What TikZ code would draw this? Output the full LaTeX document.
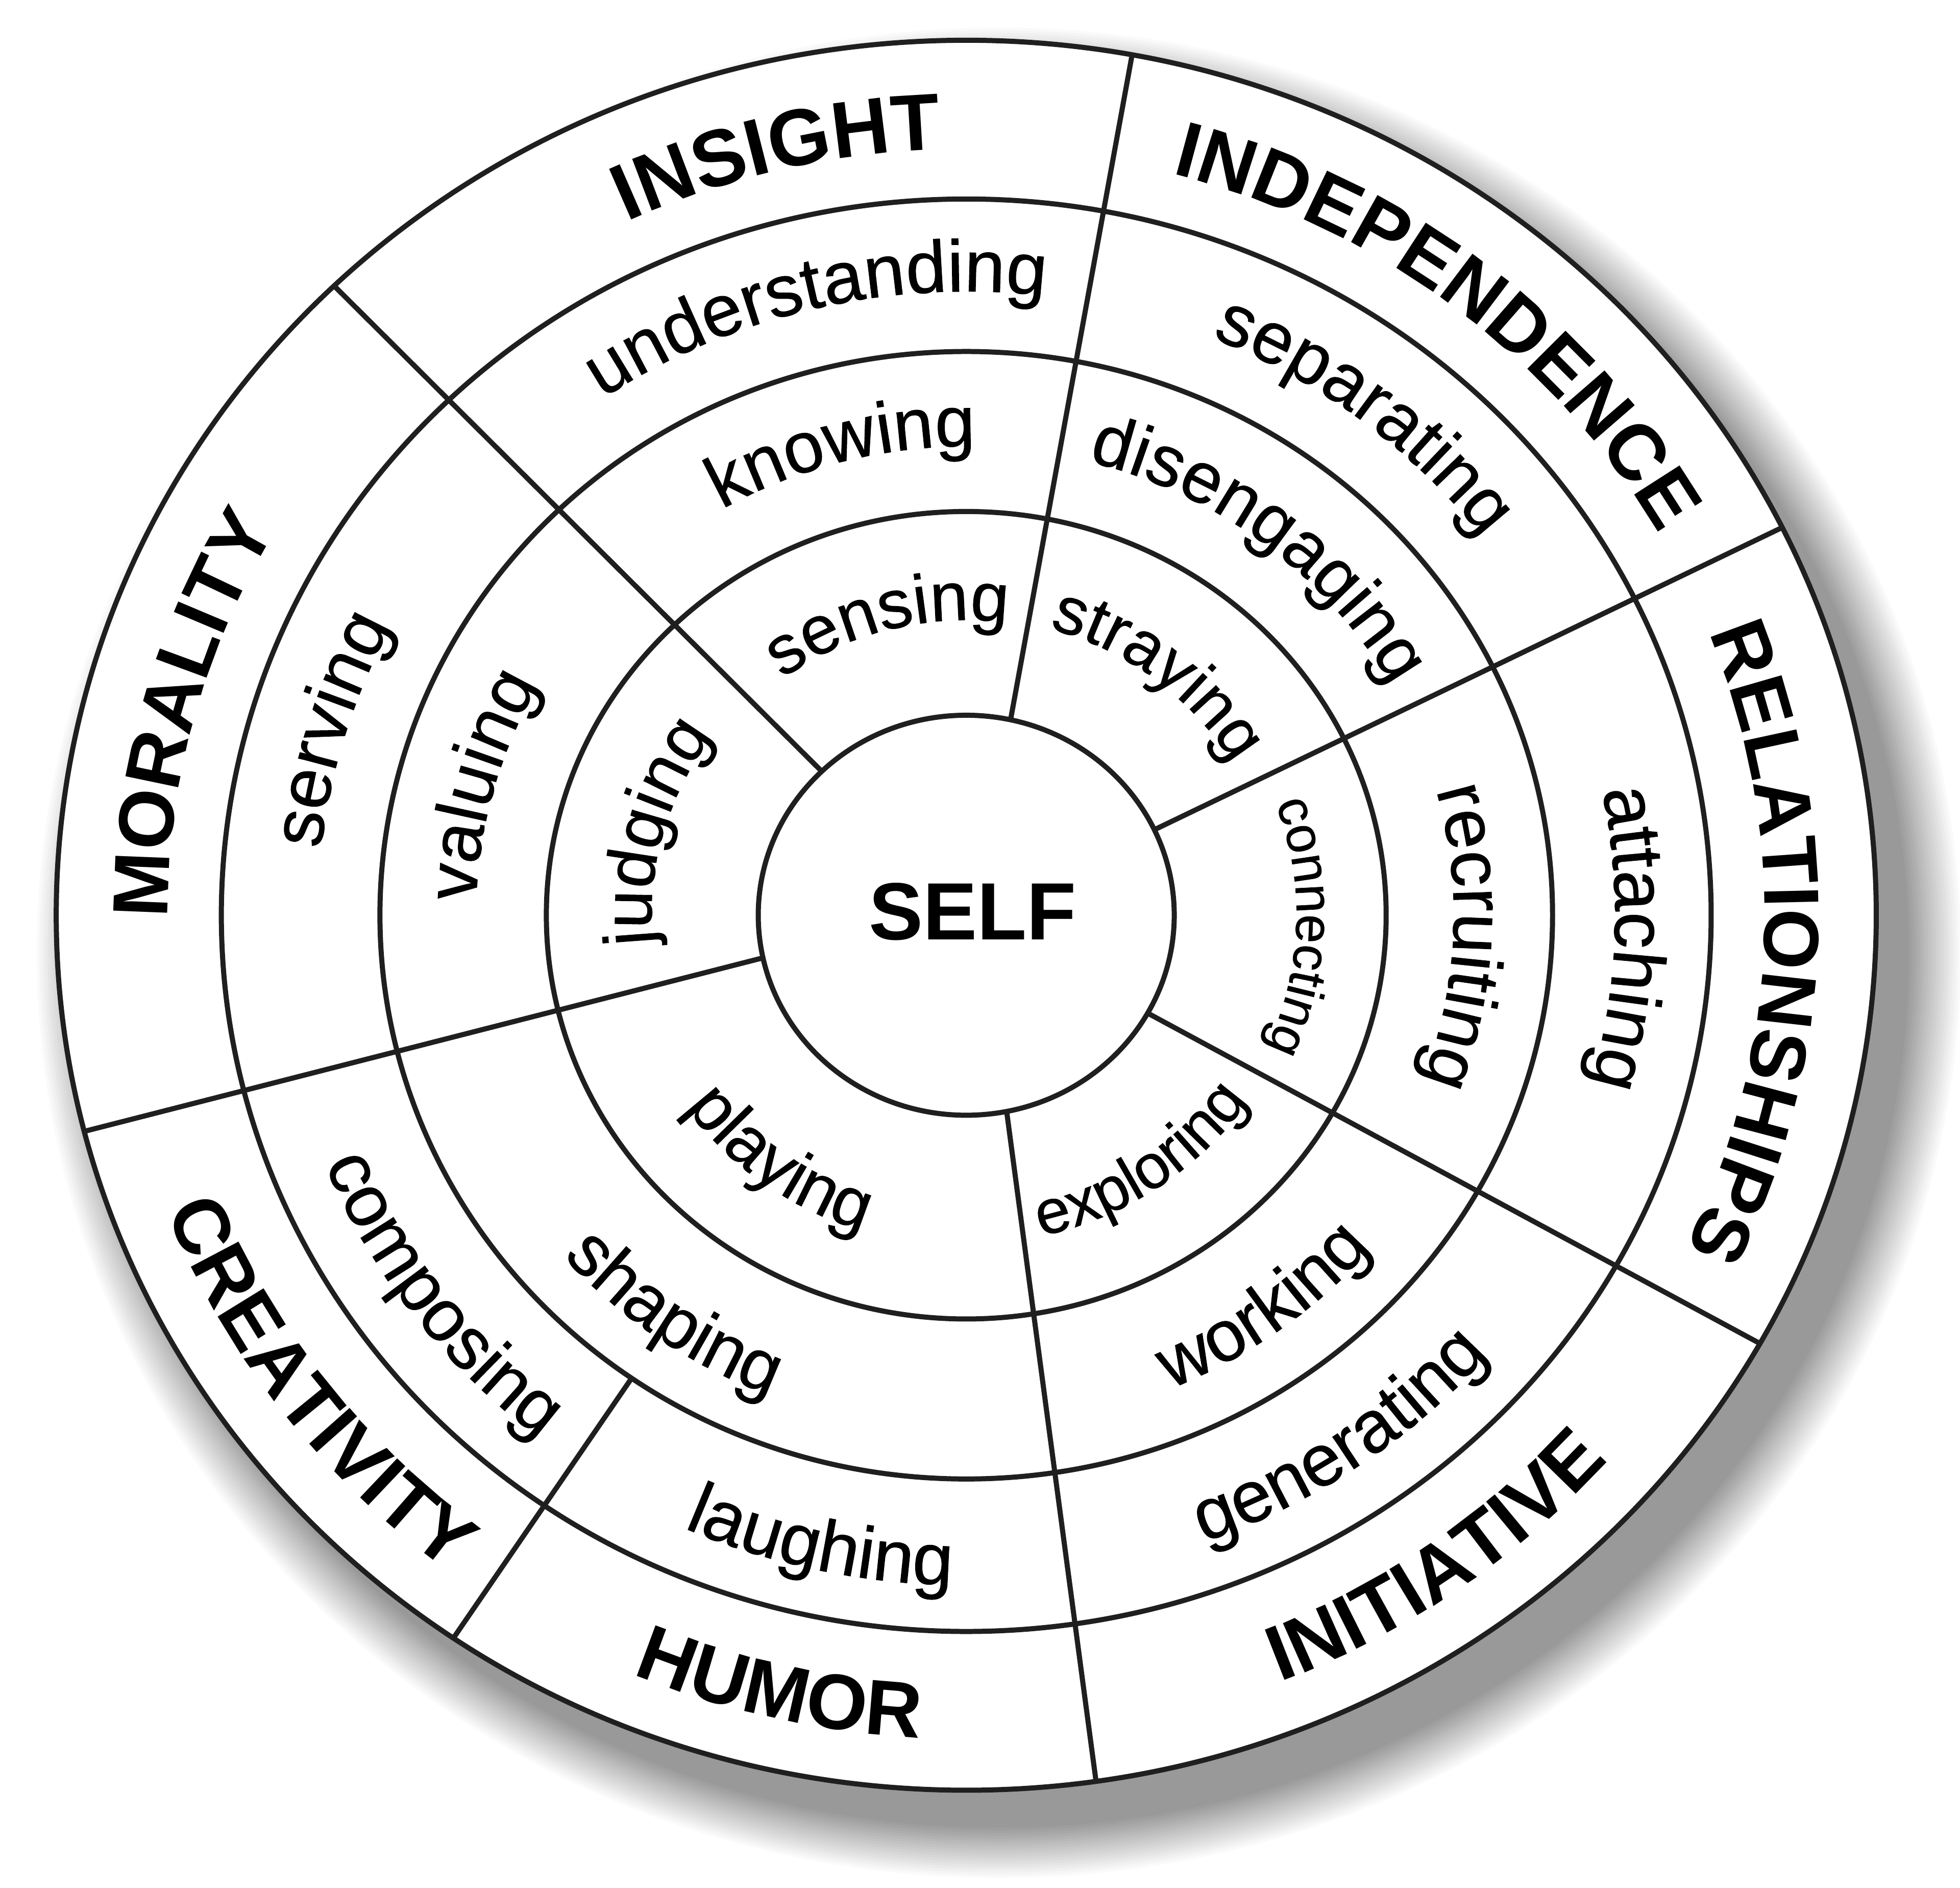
\documentclass[tikz,border=0pt]{standalone}
\usepackage{fontspec}
\setmainfont{Liberation Sans}
\newfontfamily\medsans[FakeBold=0.7]{Liberation Sans}
\usetikzlibrary{decorations.text}

\newcommand\fOut{\fontsize{22.3pt}{26pt}\selectfont\bfseries}
\newcommand\fIns{\fontsize{22.8pt}{26pt}\selectfont\bfseries}
\newcommand\fRingD{\medsans\fontsize{20.8pt}{24pt}\selectfont}
\newcommand\fRingC{\medsans\fontsize{20.5pt}{24pt}\selectfont}
\newcommand\fRingB{\medsans\fontsize{19.6pt}{23pt}\selectfont}
\newcommand\fStray{\medsans\fontsize{19.0pt}{22pt}\selectfont}
\newcommand\fConn{\medsans\fontsize{14.8pt}{17pt}\selectfont}
\newcommand\fExpl{\medsans\fontsize{17.8pt}{20pt}\selectfont}
\newcommand\fPlay{\medsans\fontsize{19.8pt}{23pt}\selectfont}
\newcommand\fSelf{\fontsize{23.1pt}{26pt}\selectfont\bfseries}

% clockwise text (tops outward): centre angle, baseline radius, font, text
\newcommand\cwtext[4]{\path[decorate,decoration={text along path,text align=center,text={|#3|#4}}] ({#1+80}:#2) arc[start angle={#1+80},end angle={#1-80},radius=#2];}
% counter-clockwise text (tops inward)
\newcommand\ccwtext[4]{\path[decorate,decoration={text along path,text align=center,text={|#3|#4}}] ({#1-80}:#2) arc[start angle={#1-80},end angle={#1+80},radius=#2];}

\begin{document}
\begin{tikzpicture}[x=0.013cm,y=0.0125cm,
  ring/.style={draw=black!88,line width=1.45pt}]
\fill[white] (-9.6625cm,-9.725cm) rectangle (9.9375cm,9.15cm);
\useasboundingbox (-9.6625cm,-9.725cm) rectangle (9.9375cm,9.15cm);

% drop shadow
\foreach \k in {0,...,19}{
  \pgfmathsetmacro\pc{2+\k*2.0}
  \pgfmathsetmacro\rr{740-\k*2.1}
  \fill[black!\pc] (25,-30) circle[radius=\rr];
}
\fill[white] (0,0) circle[radius=700];

% rings
\foreach \r in {160,323,451,573,700}{
  \draw[ring] (0,0) circle[radius=\r];
}

% dividers
\draw[ring] (77.7:160) -- (79.5:700);
\draw[ring] (134:160) -- (134:700);
\draw[ring] (25.3:160) -- (26.3:700);
\draw[ring] (-29.3:160) -- (-29.3:700);
\draw[ring] (-78.8:160) -- (-81.8:700);
\draw[ring] (192.3:160) -- (194.3:700);
\draw[ring] (235.2:451) -- (235.7:700);

% centre
\node[font=\fSelf,inner sep=0pt] (self) at (5,3) {SELF};

% outer ring
\cwtext{104}{613}{\fIns}{INSIGHT}
\cwtext{51.5}{614}{\fOut}{INDEPENDENCE}
\cwtext{-2}{614}{\fOut}{RELATIONSHIPS}
\ccwtext{-54}{659}{\fOut}{INITIATIVE}
\ccwtext{256.5}{659}{\fOut}{HUMOR}
\ccwtext{216}{659}{\fOut}{CREATIVITY}
\cwtext{165.5}{614}{\fOut}{MORALITY}

% ring 4
\cwtext{104}{499}{\fRingD}{understanding}
\cwtext{51.5}{499}{\fRingD}{separating}
\cwtext{-2}{499}{\fRingD}{attaching}
\ccwtext{-54.6}{534}{\fRingD}{generating}
\ccwtext{257}{536}{\fRingD}{laughing}
\ccwtext{216}{532}{\fRingD}{composing}
\cwtext{163.7}{499}{\fRingD}{serving}

% ring 3
\cwtext{105}{375}{\fRingC}{knowing}
\cwtext{51.5}{375}{\fRingC}{disengaging}
\cwtext{-2.5}{375}{\fRingC}{recruiting}
\ccwtext{-53}{410}{\fRingC}{working}
\ccwtext{234}{413}{\fRingC}{shaping}
\cwtext{165}{377}{\fRingC}{valuing}

% ring 2
\cwtext{105}{236}{\fRingB}{sensing}
\cwtext{51.6}{238}{\fStray}{straying}
\cwtext{-2}{254}{\fConn}{connecting}
\ccwtext{-55}{263}{\fExpl}{exploring}
\ccwtext{233}{265}{\fPlay}{playing}
\cwtext{165}{242}{\fRingB}{judging}
\end{tikzpicture}
\end{document}
